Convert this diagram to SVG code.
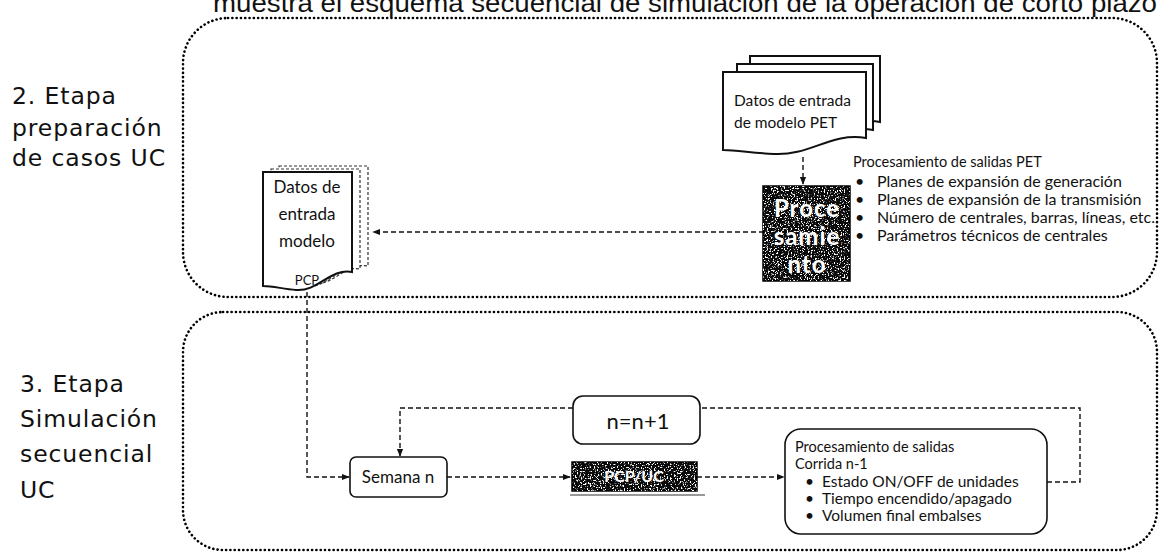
<svg xmlns="http://www.w3.org/2000/svg" width="1160" height="553" viewBox="0 0 1160 553">
<defs>
<style>
.region{fill:none;stroke:#000;stroke-width:2.6;stroke-dasharray:0.1 4.2;stroke-linecap:round}
.conn{fill:none;stroke:#111;stroke-width:1.4;stroke-dasharray:5 3}
.box{fill:#fff;stroke:#111;stroke-width:1.6}
.sheet{fill:#fff;stroke:#111;stroke-width:2}
.sheetd{fill:#fff;stroke:#333;stroke-width:1.2;stroke-dasharray:3 2}
.label{font-family:"DejaVu Sans",sans-serif;font-size:23.5px;fill:#111;letter-spacing:0.9px}
.cal{font-family:Lato,"Liberation Sans",sans-serif;fill:#111}
.dark{fill:#0a0a0a;stroke:#000;stroke-width:1.5}
.wt{font-family:Lato,"Liberation Sans",sans-serif;font-weight:bold;fill:#fff;text-anchor:middle}
</style>
<marker id="ah" viewBox="0 0 10 10" refX="9" refY="5" markerWidth="8" markerHeight="8" orient="auto" markerUnits="userSpaceOnUse">
<path d="M0,1 L10,5 L0,9 z" fill="#111"/>
</marker>
<filter id="speckle" x="0" y="0" width="1" height="1">
<feTurbulence type="fractalNoise" baseFrequency="0.7" numOctaves="2" seed="4" result="n"/>
<feColorMatrix in="n" type="matrix" values="0 0 0 0 1  0 0 0 0 1  0 0 0 0 1  9 0 0 0 -5.0"/>
<feComposite in2="SourceGraphic" operator="in"/>
</filter>
</defs>

<text x="213" y="12" font-family="Liberation Sans, Arial, sans-serif" font-size="26" fill="#111" textLength="944" lengthAdjust="spacingAndGlyphs">muestra el esquema secuencial de simulación de la operación de corto plazo</text>

<g id="stage2-region">
<rect class="region" x="183" y="18" width="974" height="279" rx="45"/>
</g>
<g id="stage3-region">
<rect class="region" x="183" y="312" width="974" height="238" rx="40"/>
</g>

<g id="label-stage2">
<text class="label" x="12" y="104">2. Etapa</text>
<text class="label" x="12" y="136">preparación</text>
<text class="label" x="12" y="166">de casos UC</text>
</g>
<g id="label-stage3">
<text class="label" x="20" y="392">3. Etapa</text>
<text class="label" x="20" y="427">Simulación</text>
<text class="label" x="20" y="462">secuencial</text>
<text class="label" x="20" y="498">UC</text>
</g>

<g id="connectors">
<path class="conn" d="M803,157 V184" marker-end="url(#ah)"/>
<path class="conn" d="M764,232 H373" marker-end="url(#ah)"/>
<path class="conn" d="M307,292 V477 H349" marker-end="url(#ah)"/>
<path class="conn" d="M447,477 H570" marker-end="url(#ah)"/>
<path class="conn" d="M697,477 H784" marker-end="url(#ah)"/>
<path class="conn" d="M1047,482 H1080 V408 H700"/>
<path class="conn" d="M573,408 H400 V456" marker-end="url(#ah)"/>
</g>

<g id="pet-input">
<path class="sheet" d="M750,56 H880 V122 C850,116 830,140 798,138 C778,137 763,134 750,134 Z"/>
<path class="sheet" d="M737,64 H873 V130 C841,124 821,148 786,146 C766,145 750,142 737,142 Z"/>
<path class="sheet" d="M723,72 H866 V138 C831,132 810,156 774,154 C752,153 737,150 723,150 Z"/>
<text class="cal" x="734" y="106" font-size="15.5">Datos de entrada</text>
<text class="cal" x="734" y="128" font-size="15.5">de modelo PET</text>
</g>

<g id="procesamiento">
<rect class="dark" x="763" y="186" width="87" height="95"/>
<rect x="763" y="186" width="87" height="95" fill="#fff" filter="url(#speckle)"/>
<text class="wt" x="807" y="217" font-size="24" letter-spacing="1">Proce</text>
<text class="wt" x="807" y="245" font-size="24" letter-spacing="1">samie</text>
<text class="wt" x="807" y="273" font-size="24" letter-spacing="1">nto</text>
</g>

<g id="pet-output-list" class="cal">
<text x="853" y="167" font-size="14.5">Procesamiento de salidas PET</text>
<g font-size="16">
<text x="855" y="187">•</text><text x="877" y="187">Planes de expansión de generación</text>
<text x="855" y="205">•</text><text x="877" y="205">Planes de expansión de la transmisión</text>
<text x="855" y="223">•</text><text x="877" y="223">Número de centrales, barras, líneas, etc.</text>
<text x="855" y="241">•</text><text x="877" y="241">Parámetros técnicos de centrales</text>
</g>
</g>

<g id="pcp-input">
<path class="sheetd" d="M279,166 H368 V266 C346,262 334,286 312,284 C299,283 289,280 279,280 Z"/>
<path class="sheetd" d="M271,169 H360 V269 C338,265 326,289 304,287 C291,286 281,283 271,283 Z"/>
<path class="sheet" stroke-width="1.5" d="M263,172 H352 V272 C330,268 318,292 296,290 C283,289 273,286 263,286 Z"/>
<g class="cal" font-size="17" text-anchor="middle">
<text x="307" y="193">Datos de</text>
<text x="307" y="220">entrada</text>
<text x="307" y="247">modelo</text>
<text x="307" y="285" font-size="13">PCP</text>
</g>
</g>

<g id="n-update">
<rect class="box" x="573" y="396" width="127" height="48" rx="10"/>
<text class="cal" x="638" y="429" font-size="22" text-anchor="middle">n=n+1</text>
</g>

<g id="semana">
<rect class="box" x="350" y="457" width="97" height="40" rx="6"/>
<text class="cal" x="398" y="483" font-size="17" text-anchor="middle">Semana n</text>
</g>

<g id="pcp-uc">
<rect class="dark" x="572" y="462" width="125" height="29"/>
<rect x="572" y="462" width="125" height="29" fill="#fff" filter="url(#speckle)"/>
<text class="wt" x="634" y="482" font-size="16">PCP/UC</text>
<line x1="570" y1="495" x2="705" y2="495" stroke="#333" stroke-width="1"/>
</g>

<g id="salidas">
<rect class="box" x="785" y="429" width="262" height="105" rx="16"/>
<g class="cal">
<text x="795" y="452" font-size="14.5">Procesamiento de salidas</text>
<text x="795" y="469" font-size="14.5">Corrida n-1</text>
<g font-size="15.5">
<text x="805" y="487">•</text><text x="822" y="487">Estado ON/OFF de unidades</text>
<text x="805" y="504">•</text><text x="822" y="504">Tiempo encendido/apagado</text>
<text x="805" y="521">•</text><text x="822" y="521">Volumen final embalses</text>
</g>
</g>
</g>
</svg>
